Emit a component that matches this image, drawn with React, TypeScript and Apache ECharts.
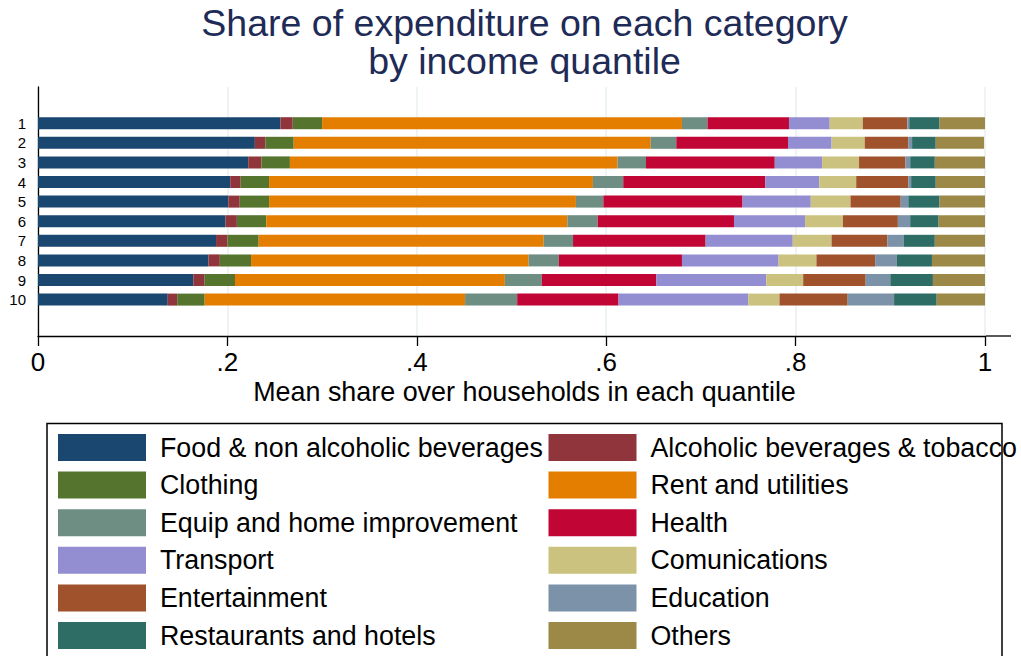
import React, { useEffect, useRef } from "react";
import * as echarts from "echarts";

const quantiles = ["1", "2", "3", "4", "5", "6", "7", "8", "9", "10"];

const food = [0.256, 0.229, 0.222, 0.203, 0.201, 0.198, 0.188, 0.18, 0.164, 0.137];
const alcohol = [0.013, 0.011, 0.014, 0.011, 0.012, 0.012, 0.012, 0.012, 0.012, 0.01];
const clothing = [0.031, 0.03, 0.03, 0.03, 0.031, 0.031, 0.033, 0.033, 0.032, 0.029];
const rent = [0.38, 0.377, 0.346, 0.342, 0.324, 0.318, 0.301, 0.293, 0.285, 0.275];
const equip = [0.027, 0.027, 0.03, 0.032, 0.029, 0.032, 0.031, 0.032, 0.039, 0.055];
const health = [0.086, 0.118, 0.136, 0.15, 0.147, 0.144, 0.14, 0.13, 0.121, 0.107];
const transport = [0.043, 0.046, 0.05, 0.057, 0.072, 0.075, 0.092, 0.102, 0.116, 0.137];
const comms = [0.035, 0.035, 0.039, 0.039, 0.042, 0.04, 0.041, 0.04, 0.039, 0.033];
const entertainment = [0.047, 0.046, 0.049, 0.055, 0.053, 0.058, 0.059, 0.062, 0.066, 0.072];
const education = [0.002, 0.004, 0.005, 0.003, 0.008, 0.013, 0.017, 0.023, 0.026, 0.049];
const restaurants = [0.032, 0.025, 0.026, 0.026, 0.033, 0.03, 0.033, 0.037, 0.045, 0.045];
const others = [0.05, 0.051, 0.054, 0.053, 0.05, 0.052, 0.054, 0.056, 0.055, 0.052];

const seriesNames = [
  "Food & non alcoholic beverages",
  "Alcoholic beverages & tobacco",
  "Clothing",
  "Rent and utilities",
  "Equip and home improvement",
  "Health",
  "Transport",
  "Comunications",
  "Entertainment",
  "Education",
  "Restaurants and hotels",
  "Others",
];
const seriesValues = [
  food, alcohol, clothing, rent, equip, health,
  transport, comms, entertainment, education, restaurants, others,
];
const seriesColors = [
  "#1a476f", "#90353b", "#55752f", "#e37e00", "#6e8e84", "#c10534",
  "#938dd2", "#cac27e", "#a0522d", "#7b92a8", "#2d6d66", "#9c8847",
];

const FONT = "'Liberation Sans', Arial, Helvetica, sans-serif";

function fmtTick(v: number): string {
  if (Math.abs(v) < 1e-9) return "0";
  if (Math.abs(v - 1) < 1e-9) return "1";
  return String(Math.round(v * 10) / 10).replace(/^0\./, ".");
}

export default function App() {
  const ref = useRef<HTMLDivElement>(null);
  useEffect(() => {
    if (!ref.current) return;
    const chart = echarts.init(ref.current, undefined, { renderer: "svg" });
    const leftNames = seriesNames.filter((_, i) => i % 2 === 0);
    const rightNames = seriesNames.filter((_, i) => i % 2 === 1);
    const legendCommon = {
      orient: "vertical" as const,
      icon: "rect",
      itemWidth: 88,
      itemHeight: 27,
      itemGap: 10.6,
      padding: 0,
      selectedMode: false,
      textStyle: {
        fontFamily: FONT,
        fontSize: 26.8,
        color: "#000",
        lineHeight: 27,
        padding: [0, 0, 0, 9],
      },
    };
    chart.setOption({
      animation: false,
      backgroundColor: "#fff",
      graphic: [
        {
          type: "text",
          x: 524.5,
          y: 4,
          style: {
            text: "Share of expenditure on each category\nby income quantile",
            fontFamily: FONT,
            fontSize: 37.5,
            lineHeight: 38,
            align: "center",
            fill: "#1f2b57",
          },
        },
        {
          type: "line",
          shape: { x1: 985, y1: 336, x2: 1011, y2: 336 },
          style: { stroke: "#000", lineWidth: 1.3 },
        },
        {
          type: "rect",
          shape: { x: 47, y: 423.5, width: 955, height: 300 },
          style: { fill: "none", stroke: "#000", lineWidth: 1.5 },
          z: 100,
        },
      ],
      legend: [
        { ...legendCommon, left: 58, top: 434, data: leftNames },
        { ...legendCommon, left: 548.5, top: 434, data: rightNames },
      ],
      grid: [
        { left: 38, right: 36, top: 87, height: 249 },
        { left: 38, right: 36, top: 113.4, height: 196 },
      ],
      xAxis: [
        {
          gridIndex: 0,
          type: "value",
          min: 0,
          max: 1,
          interval: 0.2,
          axisLine: { show: true, lineStyle: { color: "#000", width: 1.3 } },
          axisTick: { show: true, length: 10, lineStyle: { color: "#000", width: 1.3 } },
          axisLabel: {
            formatter: (v: number) => fmtTick(v),
            fontFamily: FONT,
            fontSize: 26,
            color: "#000",
            margin: 13,
          },
          splitLine: { show: true, lineStyle: { color: "#e8f0f2", width: 1.5 } },
          name: "Mean share over households in each quantile",
          nameLocation: "middle",
          nameGap: 42,
          nameTextStyle: {
            fontFamily: FONT,
            fontSize: 26.9,
            color: "#000",
            padding: [0, 0, 0, 26],
          },
        },
        {
          gridIndex: 1,
          type: "value",
          min: 0,
          max: 1,
          show: false,
        },
      ],
      yAxis: [
        {
          gridIndex: 0,
          type: "value",
          min: 0,
          max: 1,
          axisLine: { show: true, lineStyle: { color: "#000", width: 1.3 } },
          axisTick: { show: false },
          axisLabel: { show: false },
          splitLine: { show: false },
        },
        {
          gridIndex: 1,
          type: "category",
          data: quantiles,
          inverse: true,
          axisLine: { show: false },
          axisTick: { show: false },
          splitLine: { show: false },
          axisLabel: {
            fontFamily: FONT,
            fontSize: 15,
            color: "#000",
            margin: 12,
          },
        },
      ],
      series: [
        { type: "scatter", xAxisIndex: 0, yAxisIndex: 0, data: [], silent: true },
        ...seriesNames.map((name, i) => ({
          name,
          type: "bar",
          stack: "total",
          xAxisIndex: 1,
          yAxisIndex: 1,
          barWidth: 12,
          itemStyle: { color: seriesColors[i] },
          data: seriesValues[i],
        })),
      ],
    });
    return () => chart.dispose();
  }, []);
  return (
    <div
      ref={ref}
      style={{ position: "fixed", left: 0, top: 0, width: 1021, height: 656 }}
    />
  );
}
